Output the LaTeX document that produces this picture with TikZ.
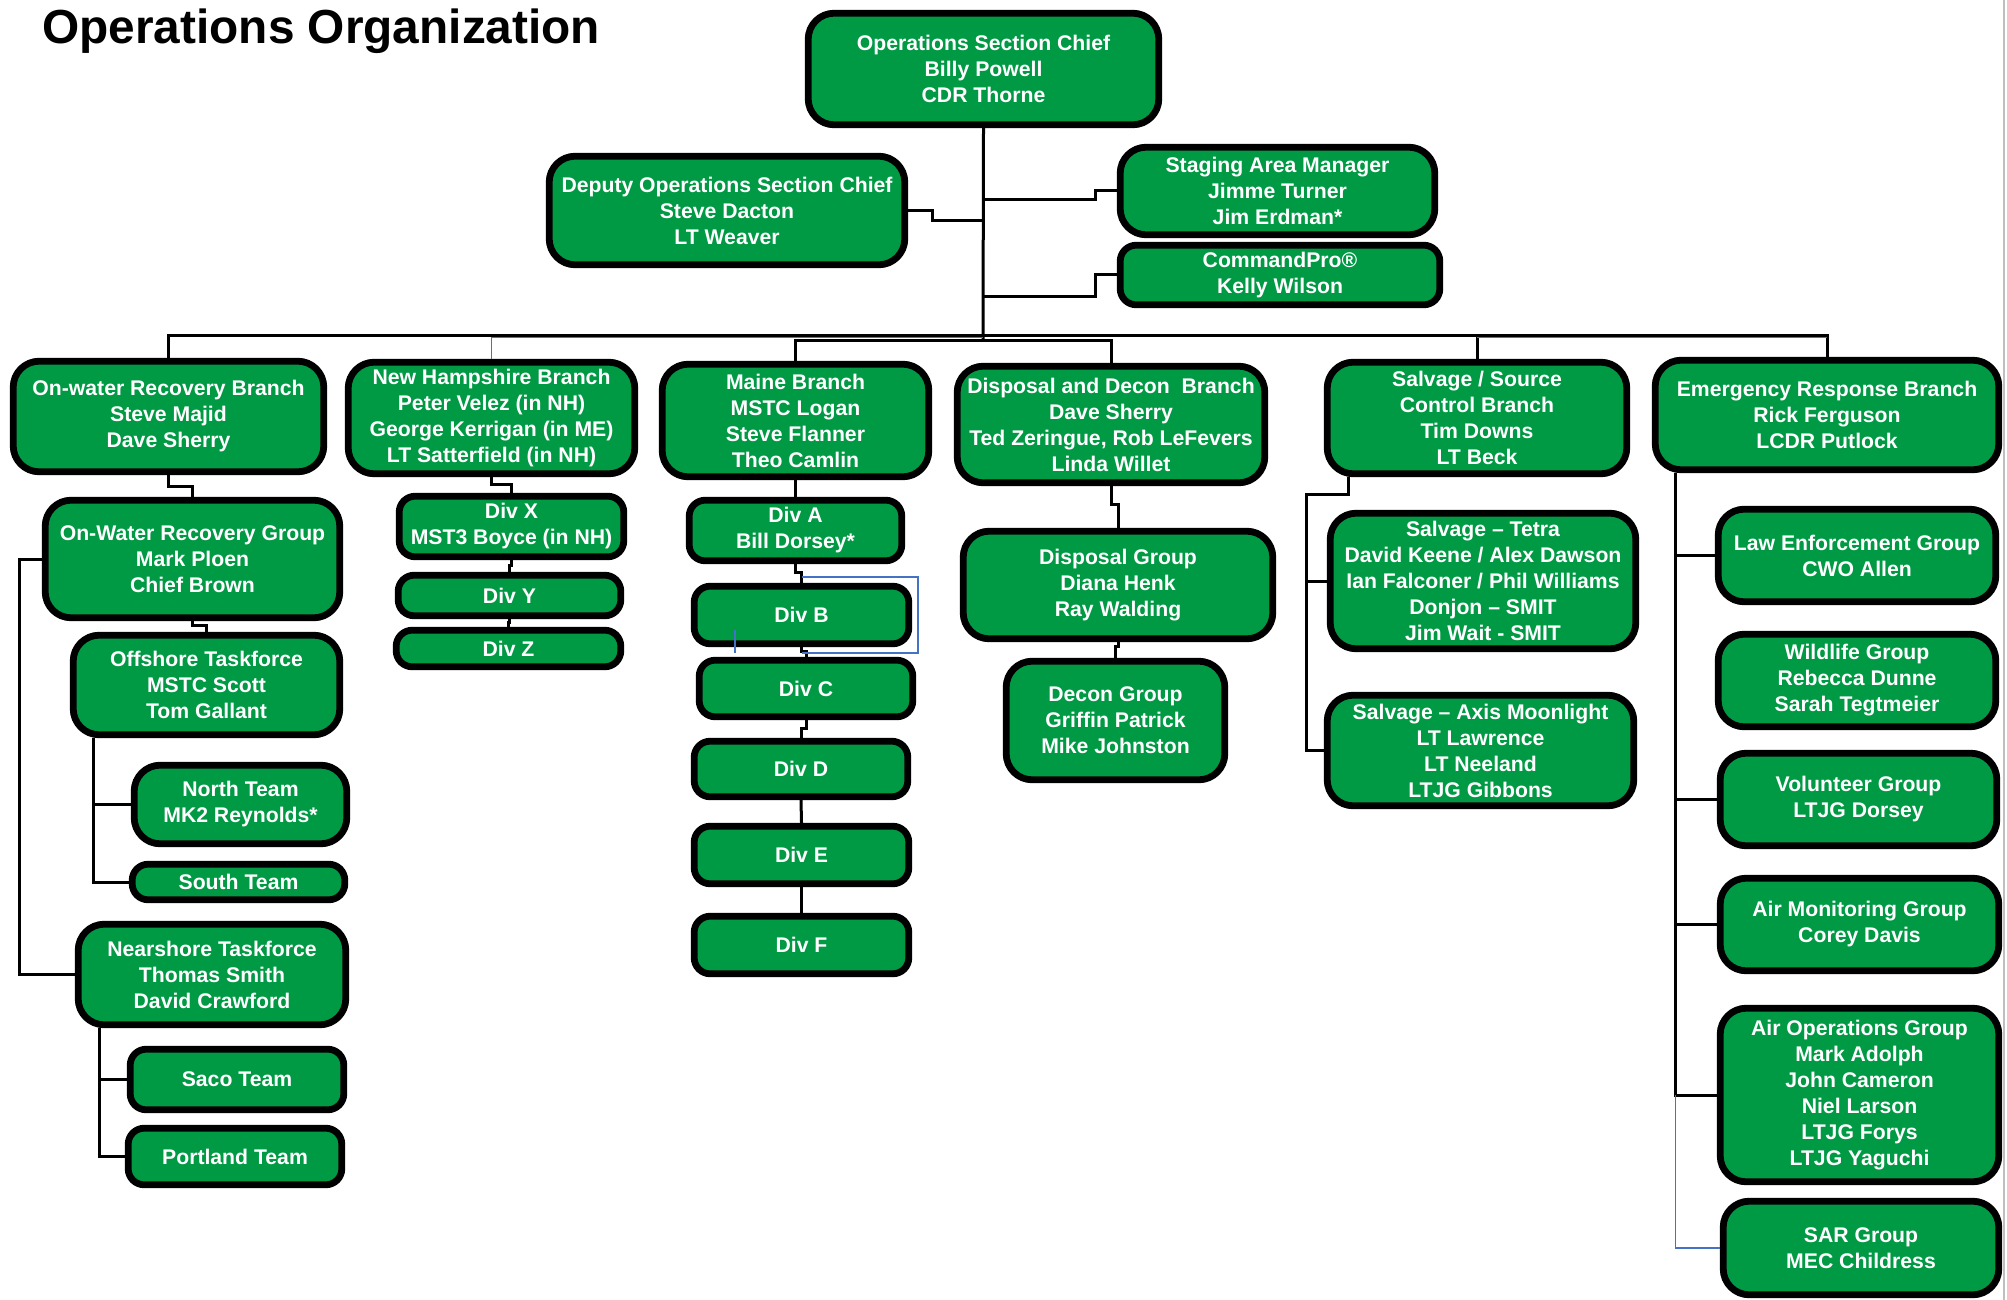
\documentclass[tikz,border=0pt]{standalone}
\usepackage{fontspec}
\setmainfont{Liberation Sans}
\usetikzlibrary{calc}
\definecolor{icsgreen}{RGB}{0,153,68}
\definecolor{selblue}{RGB}{68,114,196}

\begin{document}
\begin{tikzpicture}[x=0.5pt,y=-0.5pt]
  \tikzstyle{unit}=[rectangle,rounded corners=13pt,line width=3.4pt,draw=black,
                    fill=icsgreen,text=white,align=center,inner sep=0pt,
                    font=\fontsize{10.6}{13}\selectfont\bfseries]
  \tikzstyle{div}=[unit,rounded corners=8pt]
  \tikzstyle{link}=[line width=1.5pt,draw=black]
  \tikzstyle{stray}=[line width=0.6pt,draw=selblue]
  \useasboundingbox (0,0) rectangle (2007,1300);
  \draw[gray!50,line width=0.6pt] (2004,0) -- (2004,1300);

  \node[anchor=base west,inner sep=0pt,font=\fontsize{23.9}{28}\selectfont\bfseries]
    (title) at (42,44) {Operations Organization};

  % command staff
  \node [unit,minimum width=175.3pt,minimum height=55.8pt] (osc) at (983.5,69) {Operations Section Chief\\Billy Powell\\CDR Thorne};
  \node [unit,minimum width=177.8pt,minimum height=54.3pt] (dosc) at (727,210.5) {Deputy Operations Section Chief\\Steve Dacton\\LT Weaver};
  \node [unit,minimum width=157.3pt,minimum height=43.8pt] (sam) at (1277.5,191) {Staging Area Manager\\Jimme Turner\\Jim Erdman*};
  \node [div,minimum width=159.8pt,minimum height=29.8pt] (cmdpro) at (1280,275) {CommandPro®\\Kelly Wilson};

  % branches
  \node [unit,minimum width=155.3pt,minimum height=55.3pt] (owrb) at (168.5,416.5) {On-water Recovery Branch\\Steve Majid\\Dave Sherry};
  \node [unit,minimum width=143.3pt,minimum height=55.8pt] (nhb) at (491.5,418) {New Hampshire Branch\\Peter Velez (in NH)\\George Kerrigan (in ME)\\LT Satterfield (in NH)};
  \node [unit,minimum width=133.3pt,minimum height=56.3pt] (meb) at (795.5,420.5) {Maine Branch\\MSTC Logan\\Steve Flanner\\Theo Camlin};
  \node [unit,minimum width=153.8pt,minimum height=58.3pt] (ddb) at (1111,424.5) {Disposal and Decon\ \ Branch\\Dave Sherry\\Ted Zeringue, Rob LeFevers\\Linda Willet};
  \node [unit,minimum width=149.8pt,minimum height=55.8pt] (sscb) at (1477,418) {Salvage / Source\\Control Branch\\Tim Downs\\LT Beck};
  \node [unit,minimum width=171.8pt,minimum height=54.8pt] (erb) at (1827,415) {Emergency Response Branch\\Rick Ferguson\\LCDR Putlock};

  % on-water recovery
  \node [unit,minimum width=147.3pt,minimum height=58.8pt] (owrg) at (192.5,559) {On-Water Recovery Group\\Mark Ploen\\Chief Brown};
  \node [unit,minimum width=133.3pt,minimum height=49.8pt] (otf) at (206.5,685) {Offshore Taskforce\\MSTC Scott\\Tom Gallant};
  \node [unit,minimum width=106.3pt,minimum height=39.3pt] (north) at (240.5,804.5) {North Team\\MK2 Reynolds*};
  \node [div,minimum width=106.3pt,minimum height=17.8pt] (south) at (238.5,882) {South Team};
  \node [unit,minimum width=133.8pt,minimum height=50.3pt] (ntf) at (212,974.5) {Nearshore Taskforce\\Thomas Smith\\David Crawford};
  \node [div,minimum width=106.8pt,minimum height=30.3pt] (saco) at (237,1079.5) {Saco Team};
  \node [div,minimum width=106.8pt,minimum height=28.3pt] (portland) at (235,1156.5) {Portland Team};

  % new hampshire
  \node [div,minimum width=112.3pt,minimum height=30.3pt] (divx) at (511.5,526.5) {Div X\\MST3 Boyce (in NH)};
  \node [div,minimum width=111.3pt,minimum height=20.3pt] (divy) at (509.5,595.5) {Div Y};
  \node [div,minimum width=112.3pt,minimum height=18.3pt] (divz) at (508.5,648.5) {Div Z};

  % maine
  \node [div,minimum width=106.3pt,minimum height=30.3pt] (diva) at (795.5,530.5) {Div A\\Bill Dorsey*};
  \node [div,minimum width=107.3pt,minimum height=28.8pt] (divb) at (801.5,615) {Div B};
  \node [div,minimum width=106.8pt,minimum height=28.3pt] (divc) at (806,688.5) {Div C};
  \node [div,minimum width=106.8pt,minimum height=27.8pt] (divd) at (801,769) {Div D};
  \node [div,minimum width=107.3pt,minimum height=28.8pt] (dive) at (801.5,855) {Div E};
  \node [div,minimum width=107.3pt,minimum height=28.8pt] (divf) at (801.5,945) {Div F};

  % disposal and decon
  \node [unit,minimum width=154.8pt,minimum height=53.8pt] (dg) at (1118,585) {Disposal Group\\Diana Henk\\Ray Walding};
  \node [unit,minimum width=109.3pt,minimum height=59.3pt] (decon) at (1115.5,720.5) {Decon Group\\Griffin Patrick\\Mike Johnston};

  % salvage
  \node [unit,minimum width=152.8pt,minimum height=67.8pt] (tetra) at (1483,581) {Salvage – Tetra\\David Keene / Alex Dawson\\Ian Falconer / Phil Williams\\Donjon – SMIT\\Jim Wait - SMIT};
  \node [unit,minimum width=153.3pt,minimum height=55.3pt] (axis) at (1480.5,750.5) {Salvage – Axis Moonlight\\LT Lawrence\\LT Neeland\\LTJG Gibbons};

  % emergency response
  \node [unit,minimum width=138.8pt,minimum height=46.3pt] (leg) at (1857,555.5) {Law Enforcement Group\\CWO Allen};
  \node [unit,minimum width=138.8pt,minimum height=46.3pt] (wlg) at (1857,680.5) {Wildlife Group\\Rebecca Dunne\\Sarah Tegtmeier};
  \node [unit,minimum width=138.3pt,minimum height=46.3pt] (vg) at (1858.5,799.5) {Volunteer Group\\LTJG Dorsey};
  \node [unit,minimum width=139.3pt,minimum height=46.3pt] (amg) at (1859.5,924.5) {Air Monitoring Group\\Corey Davis};
  \node [unit,minimum width=139.3pt,minimum height=86.8pt] (aog) at (1859.5,1095) {Air Operations Group\\Mark Adolph\\John Cameron\\Niel Larson\\LTJG Forys\\LTJG Yaguchi};
  \node [unit,minimum width=137.8pt,minimum height=46.8pt] (sar) at (1861,1248) {SAR Group\\MEC Childress};

  % trunk and bus
  \coordinate (hub) at (983,335);
  \coordinate (hubb) at (983,337.5);
  \coordinate (hub2) at (983,340);
  \coordinate (t1) at (983,221);
  \coordinate (t2) at (983,200);
  \coordinate (t3) at (983,296);
  \draw[link] (osc.south) -- (hub2);
  \draw[link] (dosc.east) -- ++(24,0) |- (t1);
  \draw[link] (t2) -- ++(112,0) |- (sam.west);
  \draw[link] (t3) -- ++(112,0) |- (cmdpro.west);
  \draw[link] (hub) -| (owrb.north);
  \draw[stray] (hubb) -| (nhb.north);
  \draw[link] (hub2) -| (meb.north);
  \draw[link] (hub2) -| (ddb.north);
  \draw[link] (hub) -| (sscb.north);
  \draw[link] (hub) -| (erb.north);
  \draw[stray] (sscb.north |- hubb) -- (erb.north |- hubb);

  % on-water recovery links
  \draw[link] (owrb.south) -- ++(0,11) -| (owrg.north);
  \draw[link] (owrg.south) -- ++(0,4) -| (otf.north);
  \draw[link] (owrg.west) -- ++(-22,0) |- (ntf.west);
  \coordinate (ojoint) at ($(otf.south west)+(24,0)$);
  \draw[link] (ojoint) |- (north.west);
  \draw[link] (ojoint) |- (south.west);
  \coordinate (njoint) at ($(ntf.south west)+(25,0)$);
  \draw[link] (njoint) |- (saco.west);
  \draw[link] (njoint) |- (portland.west);

  % new hampshire links
  \draw[link] (nhb.south) -- ++(0,7) -| (divx.north);
  \draw[link] (divx.south) -- ++(0,5) -| (divy.north);
  \draw[link] (divy.south) -- ++(0,3) -| (divz.north);

  % maine links
  \draw[link] (meb.south) -- (diva.north);
  \draw[link] (diva.south) -- ++(0,8) -| (divb.north);
  \draw[link] (divb.south) -- ++(0,4) -| (divc.north);
  \draw[link] (divc.south) -- ++(0,8) -| (divd.north);
  \draw[link] (divd.south) -- (dive.north);
  \draw[link] (dive.south) -- (divf.north);
  \draw[stray] (802,577) -- (918,577) -- (918,653) -- (802,653);
  \draw[stray] (735,630) -- (735,653);

  % disposal links
  \draw[link] (ddb.south) -- ++(0,18) -| (dg.north);
  \draw[link] (dg.south) -- ++(0,4) -| (decon.north);

  % salvage links
  \coordinate (sjoint) at (1306,494);
  \draw[link] ($(sscb.south west)+(25,0)$) |- (sjoint) |- (tetra.west);
  \draw[link] (sjoint) |- (axis.west);

  % emergency response links
  \coordinate (ejoint) at ($(erb.south west)+(24,0)$);
  \draw[link] (ejoint) |- (leg.west);
  \draw[link] (ejoint) |- (vg.west);
  \draw[link] (ejoint) |- (amg.west);
  \draw[link] (ejoint) |- (aog.west);
  \draw[stray] (ejoint |- aog.west) |- (sar.west);
\end{tikzpicture}
\end{document}
